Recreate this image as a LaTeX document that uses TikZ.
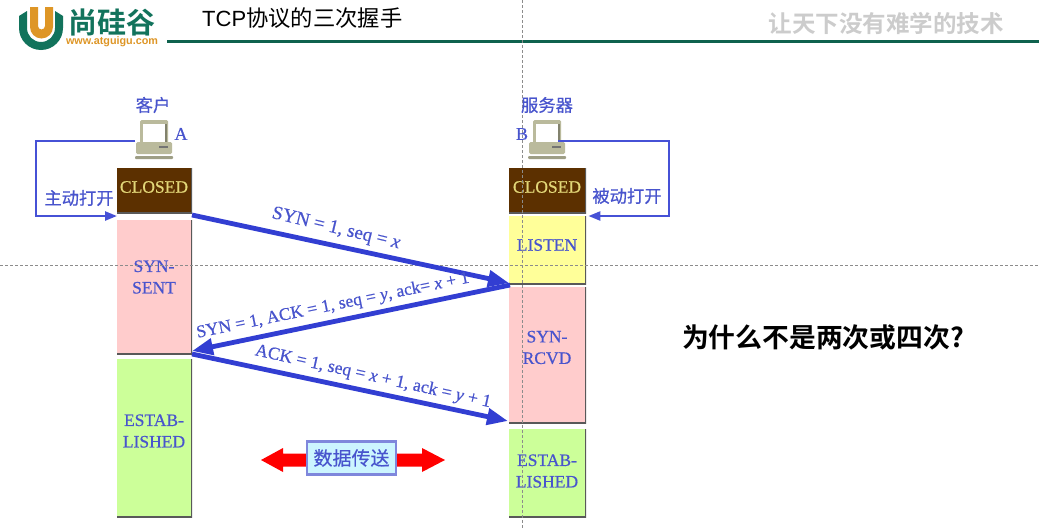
\documentclass[tikz,border=0pt]{standalone}
\usepackage{fontspec}
\setmainfont{Liberation Serif}[RawFeature={embolden=0.6}]
\newfontfamily\arialf{Liberation Sans}
\newfontfamily\cjkf{Noto Sans CJK SC}[RawFeature={embolden=0.5}]
\newfontfamily\cjkt{Noto Sans CJK SC}
\newfontfamily\cjkb{Noto Sans CJK SC Bold}
\usetikzlibrary{arrows.meta,calc}
\definecolor{tblue}{RGB}{72,84,205}
\definecolor{abl}{RGB}{50,62,210}
\definecolor{brownb}{RGB}{92,48,0}
\definecolor{closedt}{RGB}{226,214,120}
\definecolor{pinkb}{RGB}{255,204,204}
\definecolor{yellb}{RGB}{255,255,153}
\definecolor{greenb}{RGB}{204,255,153}
\definecolor{logog}{RGB}{18,115,92}
\definecolor{logoo}{RGB}{222,150,38}
\definecolor{pcb}{RGB}{186,186,156}
\tikzset{
  x=1pt,y=-1pt,
  state/.style={anchor=north west,minimum width=#1,inner sep=0pt,
     path picture={\draw[line width=2.5pt,black!65] (path picture bounding box.north east) -- (path picture bounding box.south east) -- (path picture bounding box.south west);}},
  closedst/.style={state=#1,fill=brownb},
  stxt/.style={inner sep=0pt,align=center,text=tblue,font=\fontsize{17.5}{21.5}\selectfont},
  ctxt/.style={inner sep=0pt,text=closedt,font=\fontsize{17.5}{21.5}\selectfont},
  msg/.style={-{Triangle[length=21pt,width=16pt]},line width=4.8pt,abl},
  loopl/.style={-{Triangle[length=12pt,width=9pt]},line width=2.4pt,abl!90!white},
  lbl/.style={text=tblue,font=\cjkf\fontsize{17.3}{18}\selectfont,inner sep=0pt},
  msgl/.style={text=tblue,inner sep=0pt},
  guide/.style={densely dashed,line width=0.6pt,black!45},
  pcnode/.style={minimum width=37pt,minimum height=38pt,inner sep=0pt}
}
\newcommand{\pcdraw}[2]{%
  \begin{scope}[shift={(#1,#2)}]
    \fill[pcb,rounded corners=1.5pt] (5,0) rectangle (33,24);
    \fill[white] (8,4) rectangle (30,22);
    \fill[pcb!70!black] (30,4) rectangle (32,23);
    \fill[pcb,rounded corners=1.5pt] (1,22) rectangle (37,34);
    \fill[black!55] (24,26) rectangle (33,28);
    \fill[pcb!85!black,rounded corners=1pt] (0,36) rectangle (38,39);
  \end{scope}}
\begin{document}
\begin{tikzpicture}
\useasboundingbox (0,0) rectangle (1039,530);
\fill[white] (0,0) rectangle (1039,530);
% header
\draw[line width=2.4pt,logog!85!black] (167,41.5) -- (1039,41.5);
% logo
\fill[logog] (19,28) arc[start angle=180,end angle=0,radius=22] -- (63,16) -- (55,11) -- (55,28) arc[start angle=0,end angle=180,radius=14] -- (27,11) -- (19,16) -- cycle;
\fill[logoo] (30,7) -- (38,7) -- (38,26) arc[start angle=180,end angle=0,radius=3.5] -- (45,7) -- (53,7) -- (53,27) arc[start angle=0,end angle=180,radius=11.5] -- cycle;
\node[anchor=center,inner sep=0pt,text=logog,font=\cjkb\fontsize{29}{29}\selectfont] (logot) at (112,22) {尚硅谷};
\node[anchor=center,inner sep=0pt,text=logoo,font=\arialf\bfseries\fontsize{10.8}{11}\selectfont] (logou) at (112,42) {www.atguigu.com};
\node[anchor=west,inner sep=0pt,font=\arialf\fontsize{22}{24}\selectfont] (title) at (202,18) {TCP{\cjkt\fontsize{22.3}{24}\selectfont 协议的三次握手}};
\node[anchor=center,inner sep=0pt,text=black!20,font=\cjkb\fontsize{23.5}{24}\selectfont] (slogan) at (886,23) {让天下没有难学的技术};
% state boxes
\node[state=75pt,fill=pinkb,minimum height=134pt] (ss) at (117,220) {};
\node[state=75pt,fill=greenb,minimum height=158pt] (ea) at (117,359) {};
\node[closedst=75pt,minimum height=45pt] (ca) at (117,168) {};
\node[closedst=77pt,minimum height=45pt] (cb) at (509,168) {};
\node[state=77pt,fill=yellb,minimum height=68pt] (li) at (509,216) {};
\node[state=77pt,fill=pinkb,minimum height=136pt] (sr) at (509,287) {};
\node[state=77pt,fill=greenb,minimum height=88pt] (eb) at (509,429) {};
% state names
\node[ctxt] (cat) at (154,187) {CLOSED};
\node[ctxt] (cbt) at (547,187) {CLOSED};
\node[stxt] (sst) at (154,277) {SYN-\\SENT};
\node[stxt] (eat) at (154,431) {ESTAB-\\LISHED};
\node[stxt] (lit) at (547,245) {LISTEN};
\node[stxt] (srt) at (547,347.5) {SYN-\\RCVD};
\node[stxt] (ebt) at (547,471) {ESTAB-\\LISHED};
% guides
\draw[guide] (522,0) -- (522,530);
\draw[guide] (0,265) -- (1039,265);
% computers
\pcdraw{135}{120}
\pcdraw{528}{120}
\node[pcnode,anchor=north west] (pa) at (135,120) {};
\node[pcnode,anchor=north west] (pb) at (528,120) {};
\node[lbl] (kh) at (153,105) {客户};
\node[lbl] (fw) at (547,105) {服务器};
\node[msgl,font=\fontsize{18}{20}\selectfont] (la) at (181,134) {A};
\node[msgl,font=\fontsize{18}{20}\selectfont] (lb) at (522,134) {B};
% loops
\coordinate (al) at (36,141);
\coordinate (ar) at (669,141);
\draw[loopl] (pa.west |- al) -- (al) -- (36,216) -- (ss.north west |- 0,216);
\draw[loopl] ([xshift=-7pt]pb.east |- ar) -- (ar) -- (669,216) -- ([xshift=2pt]li.north east |- 0,216);
\node[lbl] (zd) at (79,198) {主动打开};
\node[lbl] (bd) at (627,196) {被动打开};
% messages
\coordinate (m1a) at (192,215);
\coordinate (m1b) at (509,283);
\coordinate (m2a) at (510,285);
\coordinate (m2b) at (192,351);
\coordinate (m3a) at (192,354);
\coordinate (m3b) at (508,421);
\draw[msg] (m1a) -- (m1b);
\draw[msg] (m2a) -- (m2b);
\draw[msg] (m3a) -- (m3b);
\node[msgl,rotate=-13.5,font=\fontsize{19}{20}\selectfont] (t1) at (336,229) {SYN = 1, seq = \textit{x}};
\node[msgl,rotate=11.5,font=\fontsize{17.6}{20}\selectfont] (t2) at (333,306) {SYN = 1, ACK = 1, seq = \textit{y}, ack= \textit{x} + 1};
\node[msgl,rotate=-12.5,font=\fontsize{17.8}{20}\selectfont] (t3) at (373,377) {ACK = 1, seq = \textit{x} + 1, ack = \textit{y} + 1};
% data transfer
\fill[red] (261,460) -- (283,448) -- (283,453.5) -- (422,453.5) -- (422,448) -- (445,460) -- (422,472) -- (422,466.5) -- (283,466.5) -- (283,472) -- cycle;
\node[draw=tblue!70!white,line width=2.4pt,fill=blue!20!cyan!20!white,minimum width=89pt,minimum height=33pt,inner sep=0pt,text=tblue,font=\cjkf\fontsize{19}{20}\selectfont] (dt) at (351.5,458) {数据传送};
% question
\node[anchor=center,inner sep=0pt,font=\cjkb\fontsize{26.8}{28}\selectfont] (q) at (823,337) {为什么不是两次或四次?};
\end{tikzpicture}
\end{document}
